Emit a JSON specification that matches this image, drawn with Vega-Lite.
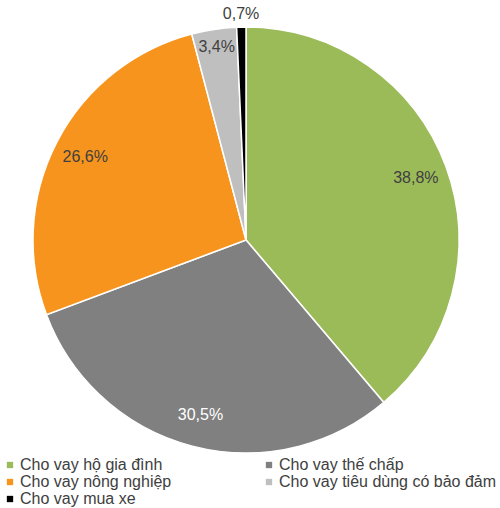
{
  "$schema": "https://vega.github.io/schema/vega-lite/v6.json",
  "width": 492,
  "height": 480,
  "padding": {"left": 0, "top": 0, "right": 8, "bottom": 28},
  "autosize": "none",
  "background": "white",
  "config": {"view": {"stroke": null}, "font": "Liberation Sans"},
  "data": {
    "values": [
      {"category": "Cho vay hộ gia đình", "value": 38.8, "label": "38,8%", "ord": 1},
      {"category": "Cho vay thế chấp", "value": 30.5, "label": "30,5%", "ord": 2},
      {"category": "Cho vay nông nghiệp", "value": 26.6, "label": "26,6%", "ord": 3},
      {"category": "Cho vay tiêu dùng có bảo đảm", "value": 3.4, "label": "3,4%", "ord": 4},
      {"category": "Cho vay mua xe", "value": 0.7, "label": "0,7%", "ord": 5}
    ]
  },
  "encoding": {
    "theta": {"field": "value", "type": "quantitative", "stack": true},
    "order": {"field": "ord", "type": "quantitative"}
  },
  "layer": [
    {
      "mark": {"type": "arc", "outerRadius": 213, "stroke": "white", "strokeWidth": 1.5},
      "encoding": {
        "color": {
          "field": "category",
          "type": "nominal",
          "scale": {
            "domain": ["Cho vay hộ gia đình", "Cho vay thế chấp", "Cho vay nông nghiệp", "Cho vay tiêu dùng có bảo đảm", "Cho vay mua xe"],
            "range": ["#9BBB59", "#808080", "#F7941D", "#BFBFBF", "#000000"]
          },
          "legend": {
            "title": null,
            "orient": "none",
            "legendX": 2,
            "legendY": 457,
            "direction": "horizontal",
            "columns": 2,
            "columnPadding": 89,
            "rowPadding": 1,
            "symbolType": "square",
            "symbolSize": 40,
            "symbolStrokeWidth": 0,
            "symbolOffset": 0,
            "labelFontSize": 16,
            "labelColor": "#404040",
            "labelOffset": 2,
            "labelLimit": 300
          }
        }
      }
    },
    {
      "mark": {"type": "text", "radius": 181, "fontSize": 16},
      "encoding": {
        "text": {"condition": {"test": "datum.value > 20", "field": "label"}, "value": ""},
        "color": {"condition": {"test": "datum.ord == 2", "value": "white"}, "value": "#404040"}
      }
    },
    {
      "mark": {"type": "text", "radius": 195, "fontSize": 16, "color": "#404040"},
      "encoding": {
        "text": {"condition": {"test": "datum.value > 2 && datum.value < 20", "field": "label"}, "value": ""}
      }
    },
    {
      "mark": {"type": "text", "radius": 226, "fontSize": 16, "color": "#404040"},
      "encoding": {
        "text": {"condition": {"test": "datum.value < 2", "field": "label"}, "value": ""}
      }
    }
  ]
}
